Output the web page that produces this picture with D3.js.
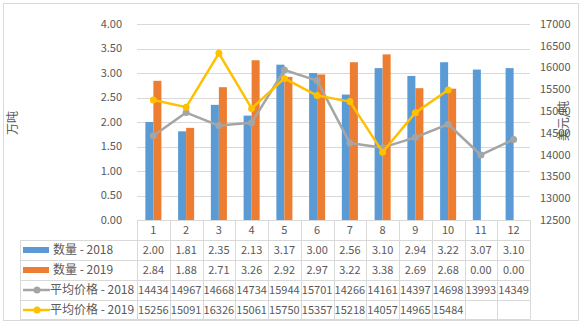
<!DOCTYPE html>
<html><head><meta charset="utf-8">
<script src="https://cdn.jsdelivr.net/npm/d3@7"></script>
<style>body{margin:0;background:#fff;}svg{display:block;font-family:"Noto Sans CJK SC","DejaVu Sans",sans-serif;}</style>
</head><body>
<script>
const categories = ["1","2","3","4","5","6","7","8","9","10","11","12"];
const qty2018 = [2.00,1.81,2.35,2.13,3.17,3.00,2.56,3.10,2.94,3.22,3.07,3.10];
const qty2019 = [2.84,1.88,2.71,3.26,2.92,2.97,3.22,3.38,2.69,2.68,0.00,0.00];
const price2018 = [14434,14967,14668,14734,15944,15701,14266,14161,14397,14698,13993,14349];
const price2019 = [15256,15091,16326,15061,15750,15357,15218,14057,14965,15484];
const leftTicks = [0,0.5,1,1.5,2,2.5,3,3.5,4];
const rightTicks = [12500,13000,13500,14000,14500,15000,15500,16000,16500,17000];
const seriesNames = ["数量 - 2018","数量 - 2019","平均价格 - 2018","平均价格 - 2019"];
const colors = ["#5B9BD5","#ED7D31","#A5A5A5","#FFC000"];

const W=583,H=325;
const svg=d3.select("body").append("svg").attr("width",W).attr("height",H);
svg.append("rect").attr("x",3.5).attr("y",3.5).attr("width",575).attr("height",317).attr("fill","#fff").attr("stroke","#D9D9D9");

const L=137,R=530,T=24,B=220;
const x=d3.scaleBand().domain(categories).range([L,R]);
const yL=d3.scaleLinear().domain([0,4]).range([B,T]);
const yR=d3.scaleLinear().domain([12500,17000]).range([B,T]);
const txt="#595959";

// gridlines
svg.append("g").selectAll("line").data(leftTicks.slice(1)).join("line")
  .attr("x1",L).attr("x2",R).attr("y1",d=>Math.round(yL(d))+0.5).attr("y2",d=>Math.round(yL(d))+0.5)
  .attr("stroke","#D9D9D9");

// axis labels
svg.append("g").selectAll("text").data(leftTicks).join("text")
  .attr("x",122).attr("y",d=>yL(d)).attr("dy","0.35em").attr("text-anchor","end")
  .attr("font-size",11).attr("fill",txt).text(d=>d3.format(".2f")(d));
svg.append("g").selectAll("text").data(rightTicks).join("text")
  .attr("x",540).attr("y",d=>yR(d)).attr("dy","0.35em").attr("text-anchor","start")
  .attr("font-size",11).attr("fill",txt).text(d=>d);

svg.append("text").attr("transform","translate(17,123) rotate(-90)").attr("text-anchor","middle")
  .attr("font-size",12).attr("fill",txt).text("万吨");
svg.append("text").attr("transform","translate(568,121) rotate(-90)").attr("text-anchor","middle")
  .attr("font-size",12).attr("fill",txt).text("美元/吨");

// bars
const bw=x.bandwidth()*0.245;
const bars=[qty2018,qty2019];
bars.forEach((arr,si)=>{
  svg.append("g").selectAll("rect").data(arr).join("rect")
    .attr("x",(d,i)=>x(categories[i])+x.bandwidth()/2+(si-1)*bw)
    .attr("width",bw).attr("y",d=>yL(d)).attr("height",d=>B-yL(d)).attr("fill",colors[si]);
});

// lines
[price2018,price2019].forEach((arr,si)=>{
  const c=colors[si+2];
  const line=d3.line().x((d,i)=>x(categories[i])+x.bandwidth()/2).y(d=>yR(d));
  svg.append("path").datum(arr).attr("d",line).attr("fill","none").attr("stroke",c).attr("stroke-width",2.5).attr("stroke-linejoin","round");
  svg.append("g").selectAll("circle").data(arr).join("circle")
    .attr("cx",(d,i)=>x(categories[i])+x.bandwidth()/2).attr("cy",d=>yR(d)).attr("r",3.5).attr("fill",c);
});

// table
const gc="#D9D9D9";
const tg=svg.append("g");
tg.append("line").attr("x1",L).attr("x2",R).attr("y1",220.5).attr("y2",220.5).attr("stroke",gc);
[240,260,280,300,319].forEach(y=>{
  tg.append("line").attr("x1",20).attr("x2",R).attr("y1",y+0.5).attr("y2",y+0.5).attr("stroke",gc);
});
tg.append("line").attr("x1",20.5).attr("x2",20.5).attr("y1",240).attr("y2",319.5).attr("stroke",gc);
categories.forEach((c,i)=>{
  const xx=Math.round(x(c))+0.5;
  tg.append("line").attr("x1",xx).attr("x2",xx).attr("y1",220).attr("y2",319.5).attr("stroke",gc);
});
tg.append("line").attr("x1",R+0.5).attr("x2",R+0.5).attr("y1",220).attr("y2",319.5).attr("stroke",gc);
tg.selectAll("text.cat").data(categories).join("text").attr("class","cat")
  .attr("x",d=>x(d)+x.bandwidth()/2).attr("y",230).attr("dy","0.35em").attr("text-anchor","middle")
  .attr("font-size",11).attr("fill",txt).text(d=>d);
const rows=[qty2018.map(d=>d3.format(".2f")(d)),qty2019.map(d=>d3.format(".2f")(d)),price2018.map(String),price2019.map(String)];
rows.forEach((r,ri)=>{
  const cy=250+ri*20;
  tg.append("g").selectAll("text").data(r).join("text")
    .attr("x",(d,i)=>x(categories[i])+x.bandwidth()/2).attr("y",cy).attr("dy","0.35em").attr("text-anchor","middle")
    .attr("font-size",11).attr("fill",txt).text(d=>d);
  if(ri<2){
    tg.append("rect").attr("x",23).attr("y",cy-3).attr("width",26).attr("height",6).attr("fill",colors[ri]);
    tg.append("text").attr("x",53).attr("y",cy).attr("dy","0.35em").attr("font-size",12).attr("fill",txt).text(seriesNames[ri]);
  } else {
    tg.append("line").attr("x1",23).attr("x2",50).attr("y1",cy).attr("y2",cy).attr("stroke",colors[ri]).attr("stroke-width",2.5);
    tg.append("circle").attr("cx",37).attr("cy",cy).attr("r",3.5).attr("fill",colors[ri]);
    tg.append("text").attr("x",50).attr("y",cy).attr("dy","0.35em").attr("font-size",12).attr("fill",txt).text(seriesNames[ri]);
  }
});
</script>
</body></html>
